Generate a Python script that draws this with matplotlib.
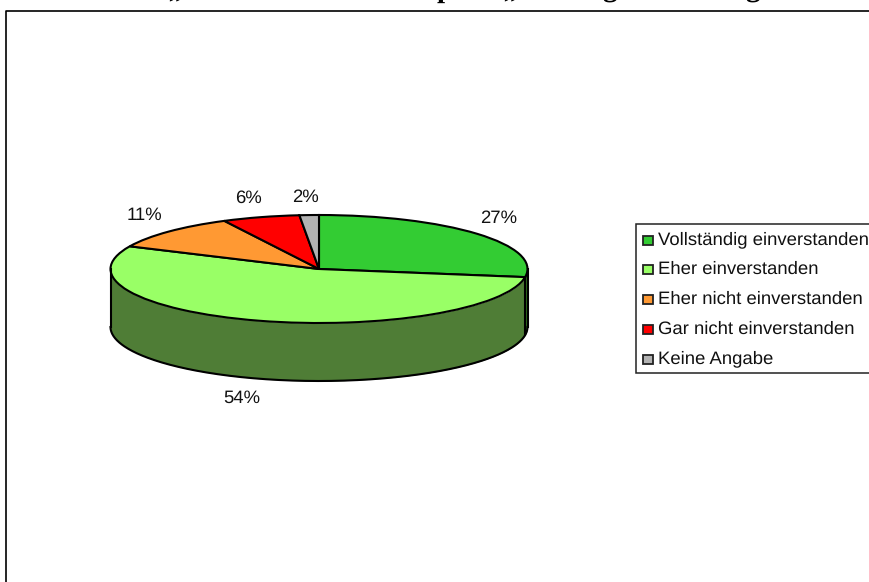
import numpy as np
import matplotlib
matplotlib.use("Agg")
import matplotlib.pyplot as plt
from matplotlib.patches import Rectangle

categories = ["Vollständig einverstanden", "Eher einverstanden", "Eher nicht einverstanden",
              "Gar nicht einverstanden", "Keine Angabe"]
values = [27.4, 54.5, 10.6, 6.0, 1.5]
labels = ["27%", "54%", "11%", "6%", "2%"]
colors = ["#33CC33", "#99FF66", "#FF9933", "#FF0000", "#B2B2B2"]
wall_colors = ["#2E6B1E", "#4F7D36", "#7F4D19", "#800000", "#595959"]
# only the lower edge of the title survives in the reference: these glyphs are all that is legible
title_glyphs = ["„", "p", "„", "g", "g"]

W, H = 869, 582
plt.rcParams["font.family"] = ["Liberation Sans", "DejaVu Sans"]
plt.rcParams["text.hinting"] = "none"
fig = plt.figure(figsize=(W/100, H/100), dpi=100, facecolor="white")

def axpx(x0, y0, x1, y1):
    return fig.add_axes([x0/W, 1-y1/H, (x1-x0)/W, (y1-y0)/H])

# background frame
bg = axpx(0, 0, W, H); bg.set_xlim(0, W); bg.set_ylim(H, 0); bg.axis("off")
bg.plot([6.2, 6.2, W], [H, 10.8, 10.8], color="black", lw=1.2, clip_on=False)

# clipped title (only descenders visible)
for x, s in zip([175, 445, 510, 610, 753], title_glyphs):
    bg.text(x, -3, s, family="Liberation Serif", fontweight="bold", fontsize=21,
            ha="center", va="baseline", clip_on=True)

# pie
cx, cy, rx, ry, depth = 319, 269, 208.5, 54, 58
ax = axpx(cx-rx, cy-ry, cx+rx, cy+ry)
ax.patch.set_alpha(0)
fr = np.array(values)/sum(values)
edges = np.concatenate([[0], np.cumsum(fr)])*2*np.pi  # clockwise from top
d = depth/ry
LW = 1.5

# wall
for i, c in enumerate(wall_colors):
    a, b = max(edges[i], np.pi/2), min(edges[i+1], 3*np.pi/2)
    if b <= a: continue
    t = np.linspace(a, b, 200)
    ax.fill_between(np.sin(t), np.cos(t), np.cos(t)-d, color=c, lw=0, clip_on=False)
t = np.linspace(np.pi/2, 3*np.pi/2, 400)
ax.plot(np.sin(t), np.cos(t)-d, color="black", lw=LW, clip_on=False)
for s in (-1, 1):
    ax.plot([s, s], [0, -d], color="black", lw=LW, clip_on=False)
e = edges[1]
ax.plot([np.sin(e)]*2, [np.cos(e), np.cos(e)-d], color="black", lw=LW, clip_on=False)

ax.pie(values, colors=colors, startangle=90, counterclock=False, radius=1,
       wedgeprops=dict(edgecolor="black", linewidth=LW, clip_on=False))
ax.set_aspect("auto")
ax.set_xlim(-1, 1); ax.set_ylim(-1, 1)

# labels
label_pos = [(499, 218), (242, 398), (144, 215), (248, 198), (305, 197)]
lab_ax = axpx(0, 0, W, H); lab_ax.set_xlim(0, W); lab_ax.set_ylim(H, 0); lab_ax.axis("off"); lab_ax.patch.set_alpha(0)
for (x, y), s in zip(label_pos, labels):
    lab_ax.text(x, y, s, fontsize=13.3, color="#111111", ha="center", va="center", zorder=5)

# legend
lab_ax.add_patch(Rectangle((635.5, 223.5), 260, 149.5, fc="white", ec="#222222", lw=1.1))
ys = [240, 269, 299, 329, 359]
for y, c, s in zip(ys, colors, categories):
    lab_ax.add_patch(Rectangle((643, y-4.5), 9.5, 9.5, fc=c, ec="#222222", lw=1.3))
    lab_ax.text(658, y, s, fontsize=13.3, color="#111111", ha="left", va="center")

fig.savefig("out.png", dpi=100)
